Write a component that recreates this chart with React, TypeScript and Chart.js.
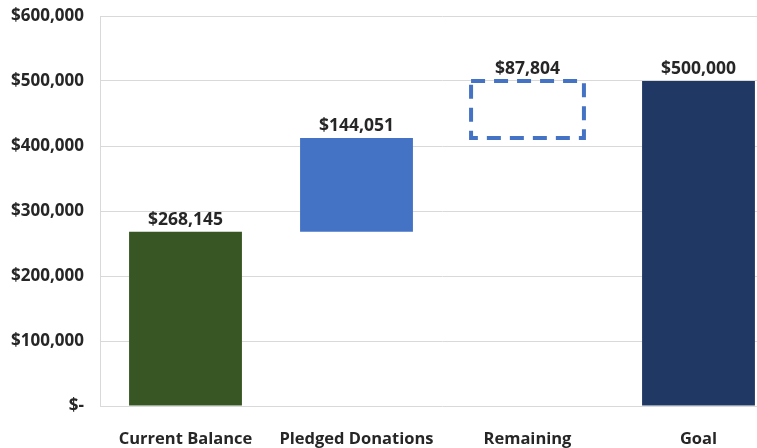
import React, { useEffect, useRef } from "react";
import { Chart, registerables } from "chart.js";

Chart.register(...registerables);

const categories = ["Current Balance", "Pledged Donations", "Remaining", "Goal"];
const barStarts = [0, 268145, 412196, 0];
const barEnds = [268145, 412196, 500000, 500000];
const barLabels = ["$268,145", "$144,051", "$87,804", "$500,000"];
const barColors = ["#375623", "#4472C4", "rgba(0,0,0,0)", "#203864"];
const dashedBars = [false, false, true, false];
const yTickValues = [0, 100000, 200000, 300000, 400000, 500000, 600000];
const yTickLabels = ["$-", "$100,000", "$200,000", "$300,000", "$400,000", "$500,000", "$600,000"];

const FONT = "'Open Sans', 'DejaVu Sans', sans-serif";

const waterfallPlugin = {
  id: "waterfallLabels",
  afterDatasetsDraw(chart: any) {
    const ctx = chart.ctx;
    const meta = chart.getDatasetMeta(0);
    meta.data.forEach((bar: any, i: number) => {
      const p = bar.getProps(["x", "y", "base", "width"], true);
      const top = Math.min(p.y, p.base);
      const bottom = Math.max(p.y, p.base);
      ctx.save();
      if (dashedBars[i]) {
        ctx.strokeStyle = "#4472C4";
        ctx.lineWidth = 4;
        ctx.setLineDash([14, 9]);
        ctx.strokeRect(p.x - p.width / 2, top, p.width, bottom - top);
        ctx.setLineDash([]);
      }
      ctx.fillStyle = "#262626";
      ctx.font = `bold 17.5px ${FONT}`;
      ctx.textAlign = "center";
      ctx.textBaseline = "middle";
      ctx.fillText(barLabels[i], p.x, top - 12);
      ctx.restore();
    });
  },
};

export default function App() {
  const ref = useRef<HTMLCanvasElement>(null);
  useEffect(() => {
    if (!ref.current) return;
    const chart = new Chart(ref.current, {
      type: "bar",
      data: {
        labels: categories,
        datasets: [
          {
            data: categories.map((_, i) => [barStarts[i], barEnds[i]]) as any,
            backgroundColor: barColors,
            borderWidth: 0,
            barPercentage: 0.66,
            categoryPercentage: 1,
          },
        ],
      },
      options: {
        responsive: false,
        animation: false,
        devicePixelRatio: 1,
        layout: { padding: { top: 16, right: 6, left: 0, bottom: 0 } },
        plugins: {
          legend: { display: false },
          tooltip: { enabled: false },
        },
        scales: {
          x: {
            grid: { display: false },
            border: { display: false },
            ticks: {
              color: "#262626",
              font: { family: FONT, size: 16.5, weight: "bold" },
              padding: 15,
              maxRotation: 0,
              autoSkip: false,
            },
            afterFit(scale: any) {
              scale.height = 42;
            },
          },
          y: {
            min: 0,
            max: 600000,
            grid: { color: "#D9D9D9", lineWidth: 1, drawTicks: false },
            border: { display: true, color: "#D9D9D9" },
            afterBuildTicks(scale: any) {
              scale.ticks = yTickValues.map((v) => ({ value: v }));
            },
            ticks: {
              color: "#262626",
              font: { family: FONT, size: 17, weight: "bold" },
              padding: 16,
              callback: (v: any) => {
                const idx = yTickValues.indexOf(Number(v));
                return idx >= 0 ? yTickLabels[idx] : "";
              },
            },
            afterFit(scale: any) {
              scale.width = 100;
              scale.paddingTop = 0;
              scale.paddingBottom = 0;
            },
          },
        },
      },
      plugins: [waterfallPlugin],
    });
    return () => chart.destroy();
  }, []);

  return (
    <div
      style={{
        position: "fixed",
        left: 0,
        top: 0,
        width: 757,
        height: 448,
        overflow: "hidden",
        background: "#fff",
      }}
    >
      <canvas ref={ref} width={790} height={448} style={{ display: "block" }} />
    </div>
  );
}
